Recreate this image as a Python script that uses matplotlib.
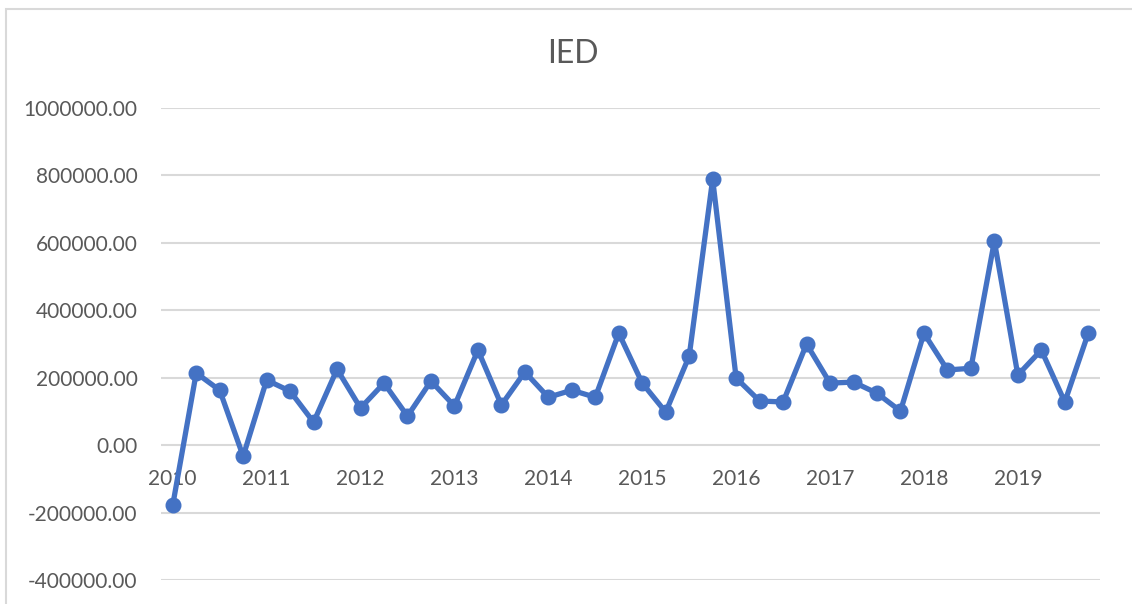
import numpy as np
import matplotlib
matplotlib.use('Agg')
import matplotlib.pyplot as plt
from matplotlib.patches import Rectangle

plt.rcParams['font.family'] = ['Lato', 'DejaVu Sans']

# Quarterly values, 2010 Q1 .. 2019 Q4
years = [str(y) for y in range(2010, 2020)]
values = [
    -178000, 214000, 163000, -33000,
    193000, 160000, 68000, 225000,
    110000, 184000, 86000, 190000,
    116000, 282000, 119000, 217000,
    142000, 163000, 142000, 332000,
    184000, 98000, 264000, 789000,
    199000, 131000, 128000, 300000,
    184000, 187000, 154000, 101000,
    332000, 223000, 228000, 605000,
    208000, 282000, 128000, 332000,
]
y_ticks = [-400000, -200000, 0, 200000, 400000, 600000, 800000, 1000000]

W, H = 1132, 604
fig = plt.figure(figsize=(W / 100, H / 100), dpi=100)

# chart frame (Excel-like border)
fig.patches.append(Rectangle((6 / W, -0.1), 1.2, 1 - 9 / H + 0.1,
                             transform=fig.transFigure, fill=False,
                             edgecolor='#D9D9D9', linewidth=1.5))

ax = fig.add_axes([161 / W, (H - 580) / H, 939 / W, 472 / H])

x = np.arange(len(values))
ax.plot(x, values, color='#4472C4', linewidth=3.8, marker='o',
        markersize=10.5, solid_joinstyle='round', zorder=3)

ax.set_xlim(-0.5, len(values) - 0.5)
ax.set_ylim(-400000, 1000000)
ax.set_yticks(y_ticks)
ax.set_yticklabels([f'{v:.2f}' for v in y_ticks])
ax.yaxis.grid(True, color='#D9D9D9', linewidth=1.5)
ax.set_axisbelow(True)

ax.set_xticks(x[::4])
ax.set_xticklabels(years)
ax.spines['bottom'].set_position(('data', 0))
for s in ax.spines.values():
    s.set_visible(False)

ax.tick_params(axis='both', length=0, labelsize=15, labelcolor='#595959')
ax.tick_params(axis='y', pad=17)
ax.tick_params(axis='x', pad=17)

fig.text(573 / W, 1 - 54 / H, 'IED', ha='center', va='center',
         fontsize=23, color='#595959')

fig.savefig('out.png', dpi=100)
